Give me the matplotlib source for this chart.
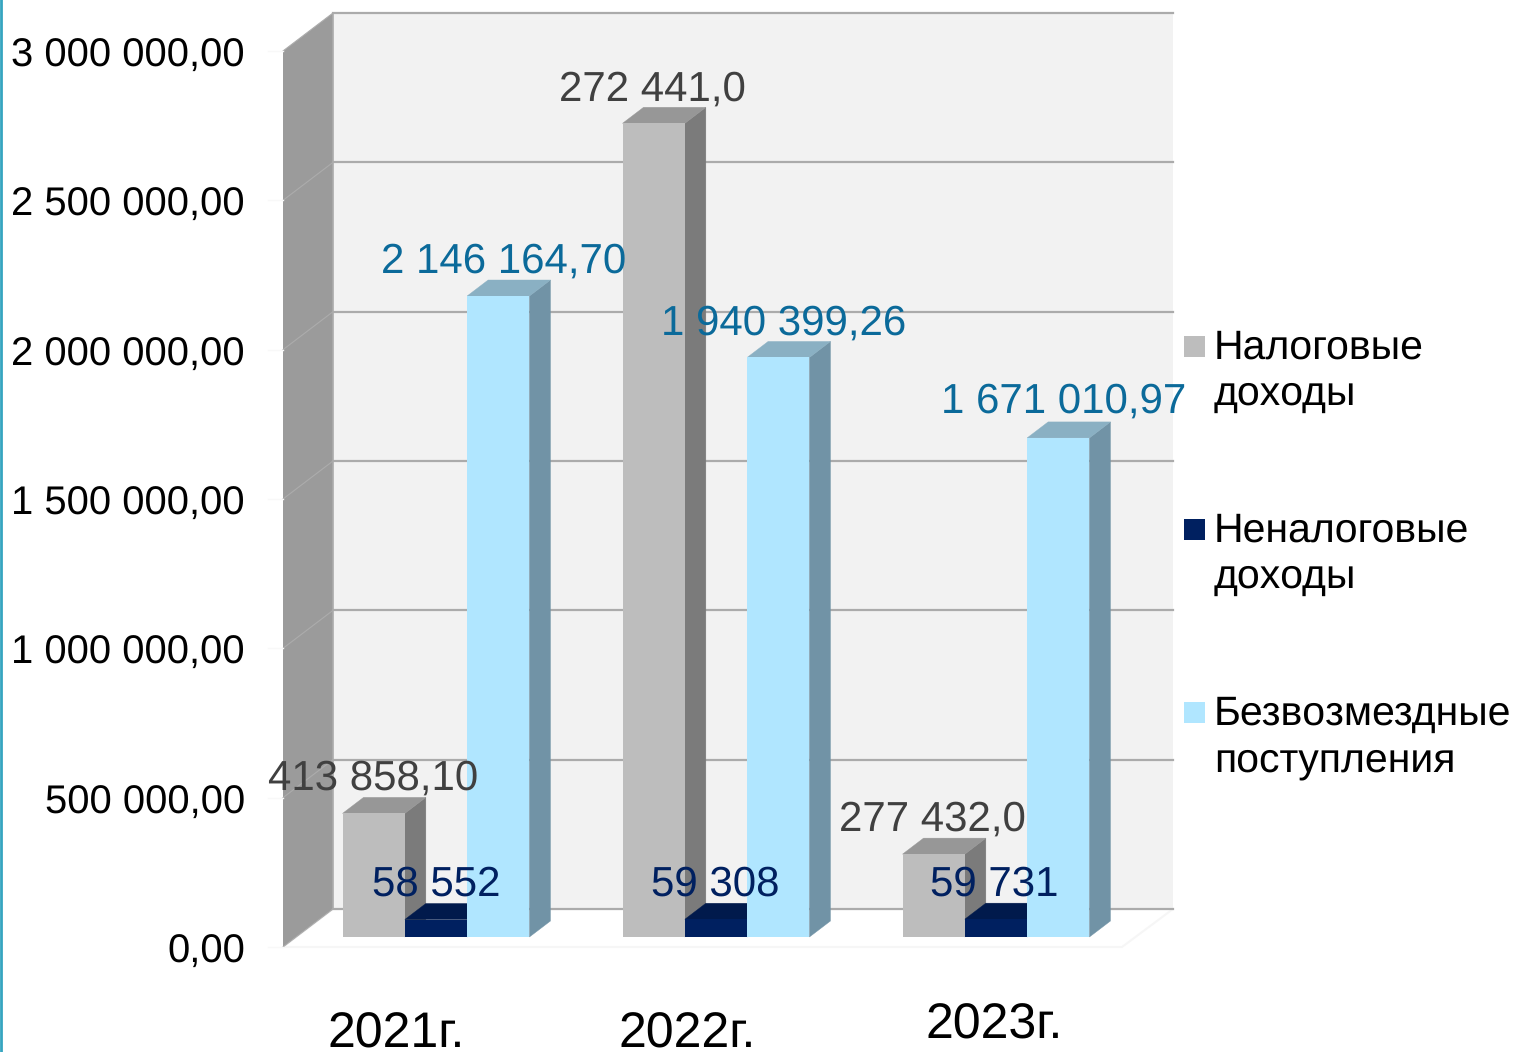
import matplotlib
matplotlib.use("Agg")
import matplotlib.pyplot as plt
from matplotlib.patches import Polygon

plt.rcParams["font.family"] = ["Liberation Sans", "DejaVu Sans"]
plt.rcParams["text.hinting"] = "no_hinting"
plt.rcParams["text.hinting_factor"] = 1

# data
years = ["2021г.", "2022г.", "2023г."]
tax = [413858.10, 2724410.0, 277432.0]
nontax = [58552, 59308, 59731]
grants = [2146164.70, 1940399.26, 1671010.97]
tax_labels = ["413 858,10", "272 441,0", "277 432,0"]
nontax_labels = ["58 552", "59 308", "59 731"]
grants_labels = ["2 146 164,70", "1 940 399,26", "1 671 010,97"]
ticks = [0, 500000, 1000000, 1500000, 2000000, 2500000, 3000000]
tick_labels = ["0,00", "500 000,00", "1 000 000,00", "1 500 000,00",
               "2 000 000,00", "2 500 000,00", "3 000 000,00"]
legend_lines = [["Налоговые", "доходы"], ["Неналоговые", "доходы"],
                ["Безвозмездные", "поступления"]]

# figure geometry, in pixels of the picture
W, H = 1520, 1052
PX_PER_UNIT = 896 / 3000000
GROUP_STEP = 280
GROUP_CENTER = 436
BAR_W = 62.3 / GROUP_STEP
FLOOR_Y = 947
BAR_BASE_Y = 937
DEPTH_X, DEPTH_Y = 21, 16
WALL_X, WALL_Y = 50, 38

# label places, in pixels
tax_pos = [(373.5, 790), (652.5, 101), (932, 831)]
nontax_pos = [(436, 896), (715, 896), (994, 896)]
grants_pos = [(503.5, 273), (784, 335), (1064, 413)]
year_pos = [(396, 1048), (687, 1048), (994, 1039)]
legend_y = [(359, 405), (542, 588), (725, 771)]


def xd(px):
    return (px - GROUP_CENTER) / GROUP_STEP


def yd(px):
    return (FLOOR_Y - px) / PX_PER_UNIT


fig = plt.figure(figsize=(W / 100, H / 100), dpi=100)
ax = fig.add_axes([0, 0, 1, 1])
ax.set_xlim(xd(0), xd(W))
ax.set_ylim(yd(H), yd(0))
ax.axis("off")

# walls
top_y = FLOOR_Y - 896
ax.add_patch(Polygon([(xd(333), yd(top_y - WALL_Y)), (xd(1173), yd(top_y - WALL_Y)),
                      (xd(1173), yd(FLOOR_Y - WALL_Y)), (xd(333), yd(FLOOR_Y - WALL_Y))],
                     fc="#f2f2f2", ec="none", zorder=1))
ax.add_patch(Polygon([(xd(283), yd(FLOOR_Y)), (xd(333), yd(FLOOR_Y - WALL_Y)),
                      (xd(1173), yd(FLOOR_Y - WALL_Y)), (xd(1122), yd(FLOOR_Y))],
                     fc="white", ec="#f6f6f6", lw=1.5, zorder=1))
ax.add_patch(Polygon([(xd(283), yd(FLOOR_Y)), (xd(333), yd(FLOOR_Y - WALL_Y)),
                      (xd(333), yd(top_y - WALL_Y)), (xd(283), yd(top_y))],
                     fc="#9b9b9b", ec="none", zorder=2))

# gridlines and tick labels
for t, lab in zip(ticks, tick_labels):
    back = t + WALL_Y / PX_PER_UNIT
    ax.plot([xd(333), xd(1173)], [back, back], color="#ababab", lw=1.6, zorder=3)
    ax.plot([xd(283), xd(333)], [t, back], color="#acacac", lw=0.8, zorder=3)
    ax.plot([xd(268), xd(283)], [t, t], color="#f8f8f8", lw=1, zorder=3)
    ax.text(xd(245), t - 16 / PX_PER_UNIT, lab, ha="right", va="baseline",
            fontsize=28.6, color="black", zorder=10)
ax.plot([xd(333), xd(333)], [yd(FLOOR_Y - WALL_Y), yd(top_y - WALL_Y)],
        color="#ababab", lw=1.2, zorder=3)

# bars
base = yd(BAR_BASE_Y)
dx = DEPTH_X / GROUP_STEP
dy = DEPTH_Y / PX_PER_UNIT
series = [
    (tax, -1, "#bdbdbd", "#979797", "#7b7b7b"),
    (nontax, 0, "#002060", "#011a4c", "#011a4c"),
    (grants, 1, "#b0e6ff", "#8ab0c3", "#7193a6"),
]
for z, (vals, off, front, top, side) in enumerate(series):
    for i, v in enumerate(vals):
        left = i + off * BAR_W - BAR_W / 2
        right = left + BAR_W
        ax.add_patch(Polygon([(right, base), (right + dx, base + dy),
                              (right + dx, base + v + dy), (right, base + v)],
                             fc=side, ec=side, lw=0.3, zorder=4 + z))
        ax.add_patch(Polygon([(left, base + v), (left + dx, base + v + dy),
                              (right + dx, base + v + dy), (right, base + v)],
                             fc=top, ec=top, lw=0.3, zorder=4 + z))
        ax.bar(i + off * BAR_W, v, BAR_W, bottom=base, color=front, zorder=4.5 + z)

# value labels
for labels, pos, color in [(tax_labels, tax_pos, "#404040"),
                           (nontax_labels, nontax_pos, "#002060"),
                           (grants_labels, grants_pos, "#0b6a9a")]:
    for lab, (px, py) in zip(labels, pos):
        ax.text(xd(px), yd(py), lab, ha="center", va="baseline",
                fontsize=30.5, color=color, zorder=12)

# category labels
for lab, (px, py) in zip(years, year_pos):
    ax.text(xd(px), yd(py), lab, ha="center", va="baseline", fontsize=36,
            color="black", zorder=12)

# legend
for lines, (y1, y2), color in zip(legend_lines, legend_y, ["#bdbdbd", "#002060", "#b0e6ff"]):
    ax.add_patch(Polygon([(xd(1184), yd(y1 - 2)), (xd(1205), yd(y1 - 2)),
                          (xd(1205), yd(y1 - 23)), (xd(1184), yd(y1 - 23))],
                         fc=color, ec="none", zorder=12))
    ax.text(xd(1214), yd(y1), lines[0], ha="left", va="baseline", fontsize=29.2, color="black")
    ax.text(xd(1214), yd(y2), lines[1], ha="left", va="baseline", fontsize=29.2, color="black")

# teal strip on the left edge
ax.plot([xd(1), xd(1)], [yd(0), yd(H)], color="#35a5c0", lw=2, zorder=12)

fig.savefig("out.png", dpi=100)
